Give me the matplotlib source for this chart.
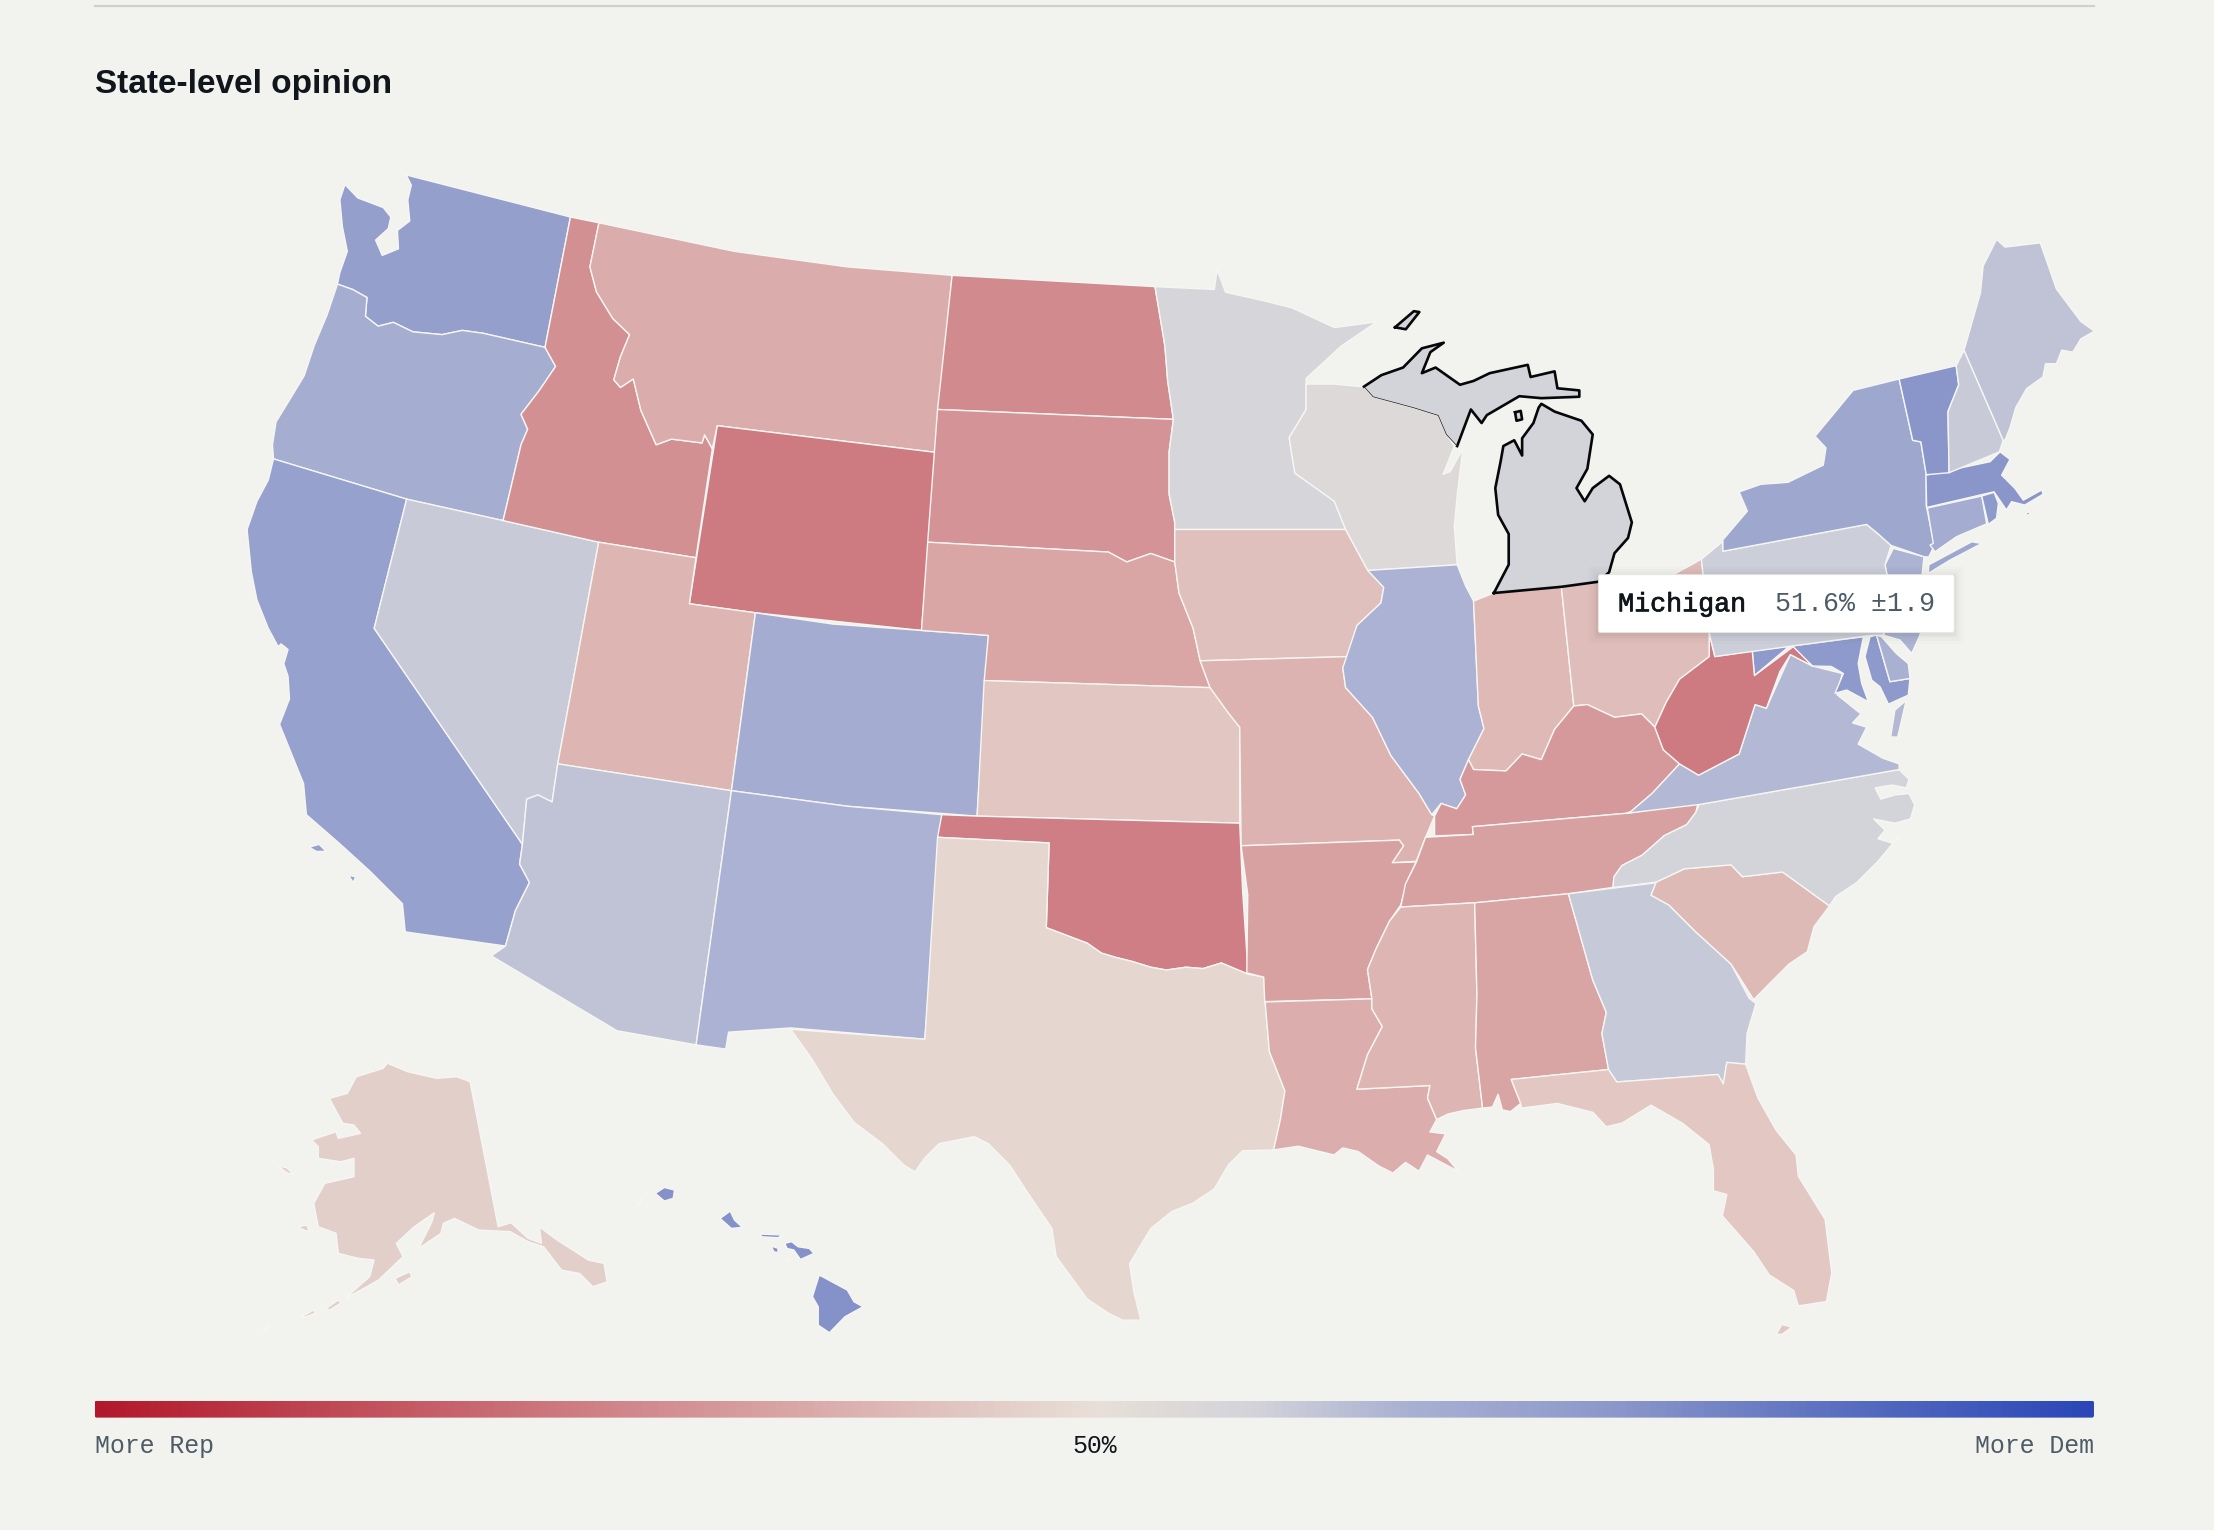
"""State-level opinion map: choropleth of state shares with a hovered Michigan tooltip."""

import matplotlib

matplotlib.use("Agg")

import matplotlib.patheffects as pe
import matplotlib.pyplot as plt
import numpy as np
from matplotlib.colors import LinearSegmentedColormap, Normalize
from matplotlib.patches import FancyBboxPatch, Polygon

BG = "#f2f2ee"
INK = "#10161b"
MUTED = "#4d5b66"
RULE = "#d0d1ca"
EDGE = "#f6f6f3"

SCALE_MIN = 40
SCALE_MAX = 60
SCALE_STOPS = [0.0, 0.25, 0.5, 0.58, 0.66, 0.76, 0.87, 1.0]
SCALE_COLORS = ["#b2182b", "#cf8186", "#e8e0d8", "#d3d3da", "#a8b0d2",
                "#8c98ca", "#5b70c0", "#2a46b8"]

STATE_NAMES = ["WA", "OR", "CA", "NV", "ID", "MT", "WY", "UT", "CO", "AZ", "NM",
               "ND", "SD", "NE", "KS", "OK", "TX", "MN", "IA", "MO", "AR", "LA",
               "WI", "IL", "IN", "OH", "KY", "TN", "MS", "AL", "GA", "FL", "SC",
               "NC", "VA", "MD", "WV", "DE", "NJ", "PA", "NY", "CT", "RI", "MA",
               "VT", "NH", "ME", "HI", "AK", "MI"]
STATE_SHARE = [54.6, 53.4, 54.4, 52.0, 45.8, 47.3, 44.7, 47.8, 53.5, 52.3, 53.1,
               45.5, 46.0, 46.9, 48.6, 44.9, 49.5, 51.4, 48.3, 47.6, 46.7, 47.4,
               50.8, 53.1, 47.9, 48.2, 46.3, 46.7, 47.8, 46.8, 52.1, 48.7, 48.0,
               51.6, 52.8, 55.0, 44.7, 53.2, 53.0, 51.8, 53.9, 53.5, 55.0, 55.3,
               55.3, 52.0, 52.3, 55.5, 49.1, 51.6]

# Outlines, one list of rings per state
SHAPES = {
    "WA": [[(287.7, 123.9), (404, 153.7), (386, 246), (342, 236), (327.4, 234), (313, 237), (292.4, 235),
            (278.6, 228.3), (267.8, 231), (258.8, 224), (259.9, 210.7), (249.7, 205), (239, 201.2), (240.7, 193),
            (246, 178), (242.5, 160.5), (240.7, 141.5), (244.3, 130.7), (253.4, 140.2), (271.4, 147),
            (276.8, 153.7), (275, 161.9), (266, 170), (270.7, 180.9), (282.2, 176.2), (281.5, 163.2),
            (290.2, 156.5), (288.8, 141.5), (291.3, 131.2)]],
    "OR": [[(239, 201.2), (249.7, 205), (259.9, 210.7), (258.8, 224), (267.8, 231), (278.6, 228.3), (292.4, 235),
            (313, 237), (327.4, 234), (342, 236), (386, 246), (393.5, 259.5), (381.6, 277), (369, 293.4),
            (373.7, 304), (369, 315), (356.3, 368.7), (288, 353.5), (193.7, 325), (193, 315), (195.5, 298.8),
            (204.6, 284), (215.4, 266.2), (222.6, 244.6), (231.7, 222.9)]],
    "CA": [[(193.7, 325), (288, 353.5), (265, 445), (370, 598), (368, 612), (375, 625), (365, 645), (358, 670),
            (287, 660), (285, 640), (262, 617), (240, 597), (217, 577), (215, 555), (198, 513), (205, 495),
            (204, 479), (201, 470), (204, 460), (199, 456), (197, 458), (190, 445), (182, 425), (178, 405),
            (175, 375), (182, 355), (190, 340)],
           [(219, 600), (226, 598), (231, 603), (224, 603)], [(247, 620), (252, 621), (250, 625)]],
    "NV": [[(288, 353.5), (356.3, 368.7), (424, 384), (395, 541), (391, 568), (381, 563), (373, 566), (370, 598),
            (265, 445)]],
    "ID": [[(404, 153.7), (424.2, 157.8), (417.8, 189), (422.4, 206.6), (434, 225.6), (445.9, 237), (439.4, 252.7),
            (434.7, 269), (439.4, 274.4), (448.5, 268.4), (453.9, 290.7), (464.7, 315), (475.6, 311), (497.2, 313.7),
            (499, 308), (504.5, 317.8), (492.9, 395), (424, 384), (356.3, 368.7), (369, 315), (373.7, 304),
            (369, 293.4), (381.6, 277), (393.5, 259.5), (386, 246)]],
    "MT": [[(424.2, 157.8), (520, 178), (600, 189), (674.3, 195), (663.4, 320.5), (508, 301.5), (504.5, 317.8),
            (499, 308), (497.2, 313.7), (475.6, 311), (464.7, 315), (453.9, 290.7), (448.5, 268.4), (439.4, 274.4),
            (434.7, 269), (439.4, 252.7), (445.9, 237), (434, 225.6), (422.4, 206.6), (417.8, 189)]],
    "WY": [[(508, 301.5), (663.4, 320.5), (652.6, 446.5), (535, 434), (488.2, 427.6)]],
    "UT": [[(424, 384), (492.9, 395), (488.2, 427.6), (535, 434), (518, 560), (395, 541)]],
    "CO": [[(535, 434), (590, 442), (652.6, 446.5), (700, 450), (692, 578), (600, 571), (518, 560)]],
    "AZ": [[(395, 541), (518, 560), (493, 740), (437, 730), (348, 677), (358, 670), (365, 645), (375, 625),
            (368, 612), (370, 598), (373, 566), (381, 563), (391, 568)]],
    "NM": [[(518, 560), (600, 571), (667, 577), (655, 736), (560, 728), (516, 731), (514, 743), (493, 740)]],
    "ND": [[(674.3, 195), (818, 203), (825, 245), (827, 270), (831, 297), (664, 290)]],
    "SD": [[(664, 290), (831, 297), (828, 320), (828, 350), (832, 370), (832, 398), (815, 392), (798, 398),
            (785, 391), (657, 384)]],
    "NE": [[(657, 384), (785, 391), (798, 398), (815, 392), (832, 398), (835, 420), (845, 445), (850, 468),
            (857, 487), (697, 482), (700, 450), (652.6, 446.5)]],
    "KS": [[(697, 482), (857, 487), (870, 505), (878, 515), (878, 583), (692, 578)]],
    "OK": [[(667, 577), (692, 578), (878, 583), (880, 630), (884, 690), (865, 682), (852, 686), (840, 685),
            (826, 687), (815, 685), (802, 681), (790, 678), (780, 675), (770, 668), (741, 657), (743, 597),
            (664, 593)]],
    "TX": [[(664, 593), (743, 597), (741, 657), (770, 668), (780, 675), (790, 678), (802, 681), (815, 685),
            (826, 687), (840, 685), (852, 686), (865, 682), (884, 690), (895, 692), (896, 709.6), (899, 744.8),
            (910, 772.6), (906.8, 792.9), (902, 814.4), (880, 815), (870, 825), (860, 842), (845, 852), (830, 858),
            (815, 870), (800, 895), (803, 915), (808, 935), (795, 935), (785, 930), (770, 920), (748, 890),
            (745, 870), (728, 845), (715, 825), (700, 810), (690, 805), (675, 808), (665, 810), (655, 820),
            (648, 830), (640, 825), (625, 810), (605, 795), (590, 775), (575, 750), (560, 729), (655, 736)]],
    "MN": [[(818, 203), (860, 205), (862, 191), (868, 207), (895, 213), (915, 218), (930, 225), (945, 232),
            (975, 228), (950, 245), (925, 268), (925, 290), (913, 310), (917, 335), (945, 355), (953, 375),
            (832, 375), (832, 370), (828, 350), (828, 320), (831, 297), (827, 270), (825, 245)]],
    "IA": [[(832, 375), (953, 375), (968.7, 404), (980, 416), (978, 427), (961, 443), (955, 465),
            (850, 468), (845, 445), (835, 420), (832, 398)]],
    "MO": [[(850, 468), (955, 465), (951, 473), (953, 487), (972, 508), (985, 535), (1005, 562), (1014, 577),
            (1016, 578), (1009.6, 593), (1003, 610), (986, 611), (994, 599), (991, 595), (879, 599), (878, 515),
            (870, 505), (857, 487)]],
    "AR": [[(879, 599), (991, 595), (994, 599), (986, 611), (1003, 610.5), (997, 623), (992, 641), (984, 652.5),
            (974.8, 671.5), (968.5, 686.6), (971.6, 707.4), (895.7, 709.4), (895, 692), (883, 689), (883.7, 633.5)]],
    "LA": [[(896, 709.6), (971.6, 707.4), (971.6, 714.5), (979, 727), (968.5, 747), (961, 771.4), (1012.7, 768.8),
            (1011, 777.7), (1017.5, 792.9), (1012.7, 801.7), (1023.8, 803), (1017.5, 815.6), (1025.4, 820.7),
            (1032.7, 829.5), (1011, 818), (1005, 829.5), (995.4, 823.2), (986.5, 830.8), (976.4, 825.7),
            (962, 815.6), (951, 813), (944.8, 818), (919.5, 811.8), (902, 814.4), (906.8, 792.9), (910, 772.6),
            (899, 744.8)]],
    "WI": [[(925, 272), (945, 272), (966, 274), (972.5, 281), (1001, 288.7), (1018.6, 294), (1026, 310), (1030, 316),
            (1022, 336), (1027, 334), (1036, 318), (1032, 351), (1030, 373), (1032, 400), (968.7, 404), (953, 375),
            (945, 355), (917, 335), (913, 310), (925, 290)]],
    "IL": [[(968.7, 404), (1032, 400), (1038, 415), (1043.6, 425.7), (1047, 500), (1051, 516), (1040, 538),
            (1034, 552), (1038, 563), (1031.7, 572.8), (1020.6, 569), (1014, 577), (1005, 562), (985, 535),
            (972, 508), (953, 487), (951, 473), (961, 443), (978, 427), (980, 416)]],
    "IN": [[(1043.6, 425.7), (1058, 420), (1105.8, 415.6), (1114.6, 500), (1101, 516.5), (1091.6, 538), (1078, 534),
            (1066.6, 546), (1043.6, 545), (1040, 538), (1051, 516), (1047, 500)]],
    "OH": [[(1105.8, 415.6), (1130, 412), (1150, 410), (1170, 412), (1185.7, 406.7), (1205, 396), (1210.6, 448.7),
            (1210.6, 465), (1189.5, 481.2), (1180, 497.5), (1172, 515), (1162.6, 505.6), (1143.4, 508),
            (1124.2, 499), (1114.6, 500)]],
    "KY": [[(1114.6, 500), (1124.2, 499), (1143.4, 508), (1162.6, 505.6), (1172, 515), (1178, 531), (1189.5, 541),
            (1170, 562), (1155, 574.8), (1152, 576), (1042.8, 585.5), (1043.4, 591), (1016, 592), (1016, 578),
            (1020.6, 569), (1031.7, 572.8), (1038, 563), (1034, 552), (1040, 538), (1043.6, 545), (1066.6, 546),
            (1078, 534), (1091.6, 538), (1101, 516.5)]],
    "TN": [[(1009.6, 593), (1043.4, 591), (1042.8, 585.5), (1152, 576), (1202.5, 569), (1201, 575.4), (1194.6, 584),
            (1178.7, 591.8), (1163, 605.7), (1148.7, 613), (1143, 621), (1142.4, 628.5), (1110.8, 633),
            (1044.4, 639.4), (992, 642.4), (995.4, 626), (1003, 610.8)]],
    "MS": [[(992, 642.4), (1044.4, 639.4), (1046, 704.3), (1045, 742), (1050, 784.8), (1036.5, 786.5), (1025.4, 789),
            (1017.5, 792.9), (1011, 777.7), (1012.7, 768.8), (961, 771.4), (968.5, 747), (979, 727), (971.6, 714.5),
            (971.6, 707.4), (968.5, 686.6), (974.8, 671.5), (984, 652.5)]],
    "AL": [[(1044.4, 639.4), (1110.8, 633), (1128, 694), (1137.6, 717), (1134.5, 732), (1139.2, 757.5),
            (1070.3, 764.5), (1077, 781.5), (1069.7, 787.3), (1064, 786), (1061, 775), (1057, 784), (1050, 784.8),
            (1045, 742), (1046, 704.3)]],
    "GA": [[(1110.8, 633), (1173, 625.2), (1169.3, 634), (1182, 641), (1201, 660), (1226, 682.8), (1238.8, 707),
            (1243.6, 710.7), (1237.3, 732), (1236.3, 753.7), (1223, 752.4), (1220.5, 767.6), (1216.7, 761),
            (1145, 766.3), (1139.2, 757.5), (1134.5, 732), (1137.6, 717), (1128, 694)]],
    "FL": [[(1070.3, 764.5), (1139.2, 757.5), (1145, 766.3), (1216.7, 761), (1220.5, 767.6), (1223, 752.4),
            (1236.3, 753.7), (1245, 777.7), (1257.8, 800.4), (1272, 818), (1273.6, 833), (1292.6, 863.7),
            (1297.3, 901.6), (1293.5, 921.8), (1273.6, 924.9), (1270.4, 914), (1253, 902.9), (1242, 886.4),
            (1219.8, 861.1), (1223, 846), (1213.5, 843.4), (1213.5, 828.3), (1210.4, 810.6), (1191.4, 795.4),
            (1169.3, 782.7), (1148.7, 795.4), (1137.6, 798), (1128.2, 787.8), (1102.9, 781.5), (1077.6, 784.8),
            (1077, 781.5)],
           [(1258, 945), (1262, 938), (1269, 940), (1262, 945)]],
    "SC": [[(1173, 624.7), (1193, 615.3), (1226, 612.5), (1234, 620.9), (1262.5, 617.6), (1295.7, 641.6),
            (1284.7, 656.3), (1280, 674), (1267, 682.8), (1253, 696.8), (1242, 708), (1226, 682.8), (1201, 660),
            (1182, 641), (1169.3, 634)]],
    "NC": [[(1203.4, 569.8), (1345, 545), (1352, 552), (1350, 558), (1340, 556), (1328, 558), (1332, 566),
            (1342, 563), (1352, 562), (1356, 570), (1353, 580), (1342, 583), (1327, 580), (1335, 588), (1330, 594),
            (1340, 597), (1345, 592), (1330, 610), (1315, 625), (1300, 635), (1295.7, 641.6), (1262.5, 617.6),
            (1234, 620.9), (1226, 612.5), (1193, 615.3), (1173, 624.7), (1142.4, 628.5), (1143, 621), (1148.7, 613),
            (1163, 605.7), (1178.7, 591.8), (1194.6, 584), (1201, 575.4)]],
    "VA": [[(1152, 576), (1155, 574.8), (1170, 562), (1189.5, 541), (1203, 549), (1231.7, 534), (1243, 499),
            (1251, 501.6), (1268, 463.6), (1283.6, 471.7), (1304.7, 477), (1301, 492), (1318, 505.6), (1312, 512),
            (1322, 515), (1316, 527), (1333.5, 537), (1345, 541), (1345, 545), (1203.4, 569.8)],
           [(1350, 496), (1342, 503), (1339, 522), (1344, 522)]],
    "MD": [[(1241, 461), (1319.7, 451), (1316, 470), (1318.5, 484), (1323.2, 497), (1307.9, 488.7), (1299.6, 491),
            (1305.5, 477), (1297, 472), (1283.6, 471.7), (1268, 457), (1242.5, 478.5)],
           [(1324.4, 451), (1329, 449.8), (1338.5, 482.8), (1352.7, 480.5), (1351.5, 492.3), (1337.4, 498.7),
            (1331.5, 486.4), (1325.6, 481.7), (1320.8, 465)]],
    "WV": [[(1210.6, 448.7), (1214.5, 465), (1241, 461), (1242.5, 478.5), (1270, 458), (1283.6, 471.7), (1268, 463.6),
            (1260.5, 475.8), (1251, 501.6), (1243, 499), (1231.7, 534), (1203, 549), (1189.5, 541), (1178, 531),
            (1172, 515), (1180, 497.5), (1189.5, 481), (1210.6, 465)]],
    "DE": [[(1329, 449.8), (1338.5, 482.8), (1352.7, 480.5), (1351.5, 470), (1343, 462.8), (1332.6, 451)]],
    "NJ": [[(1340.9, 388.4), (1362.6, 394.3), (1361, 410), (1362, 430), (1359.8, 449.8), (1353.9, 462.8),
            (1345.6, 453.3), (1333.8, 449.8), (1340, 430), (1336.2, 406), (1335, 400)]],
    "PA": [[(1205, 396), (1220, 383.6), (1220.2, 390.4), (1322, 371.4), (1330, 378), (1339.3, 386.3), (1335, 400),
            (1336.2, 406), (1340, 430), (1333.8, 449.8), (1325, 450), (1214.5, 465), (1210.6, 448.7)]],
    "NY": [[(1220.2, 390.4), (1220.2, 382.3), (1237.5, 362), (1231.7, 348.4), (1247.1, 343), (1266.3, 341.6),
            (1291.3, 329.4), (1293.2, 317.2), (1285.5, 309), (1312.4, 276.5), (1345, 268.4), (1354.6, 311.8),
            (1360.4, 313), (1364.2, 336.2), (1364.2, 358), (1370, 386.3), (1366, 394.5), (1362.6, 394.3),
            (1339.3, 386.3), (1330, 378), (1322, 371.4)],
           [(1366, 400), (1396.4, 383.7), (1403.5, 384.9), (1381, 396.7), (1365.7, 406)]],
    "CT": [[(1365, 359.8), (1403.5, 351.3), (1407, 371), (1385.8, 380), (1370.4, 390.8), (1366.9, 386), (1369.2, 384.9)]],
    "RI": [[(1403.5, 351.3), (1412.2, 348.7), (1415.3, 356.5), (1414, 367), (1408.2, 371.4)]],
    "MA": [[(1364, 336.5), (1409.4, 327), (1416.5, 320), (1423.5, 325.4), (1417.6, 336.5), (1427, 345.9), (1433, 354.2),
            (1446, 347), (1447, 350), (1434, 357.7), (1424.7, 355.3), (1421, 361.2), (1412.2, 348.3), (1364.5, 359.4)],
           [(1433, 365), (1437, 362.3), (1437.5, 364.5)], [(1447, 363), (1449, 362), (1449.5, 364)]],
    "VT": [[(1345, 268.4), (1385.4, 259), (1387.2, 272.5), (1379.6, 291.5), (1380.4, 334.8), (1364.2, 336.2),
            (1360.4, 313), (1354.6, 311.8)]],
    "NH": [[(1385.4, 259), (1391, 248), (1418.7, 311.8), (1416, 320), (1380.4, 334.8), (1379.6, 291.5), (1387.2, 272.5)]],
    "ME": [[(1391, 248), (1402.6, 207.4), (1404.5, 188.4), (1414, 169.5), (1420, 175), (1445, 172), (1456.4, 204.7),
            (1473.7, 227.7), (1483.3, 234.5), (1473.7, 240), (1468, 249.4), (1460.2, 248), (1456.4, 257.6),
            (1448.7, 257.6), (1446.8, 267), (1435.3, 275.2), (1427.6, 288.7), (1423.7, 302.3), (1420, 311.8),
            (1418.7, 311.8)]],
    "HI": [[(580.2, 903), (600.1, 913.7), (604.8, 921.9), (611.2, 925.5), (598.5, 932.5), (587.4, 943.9),
            (579.5, 938.5), (579.5, 925.5), (575.4, 918.4)],
           [(555.8, 880.6), (560.6, 879.4), (565.3, 883), (573.2, 884.2), (576.4, 887.7), (566.9, 892), (562.2, 885.3),
            (557.4, 884.2)],
           [(517.2, 857.7), (520.1, 864), (525.8, 869.3), (517.9, 870), (510, 862.9)],
           [(470.5, 841), (477.7, 842.8), (476.8, 848.7), (470.5, 850.6), (464.1, 845.2)],
           [(538.4, 874), (554.2, 874.7), (551, 876.6), (539.4, 875.9)],
           [(546.3, 882.5), (551, 884.1), (551, 887.2), (548, 886.5)],
           [(557.5, 893), (559.8, 892.4), (558.5, 894.2)],
           [(450.9, 853.5), (454.6, 848.7), (453, 851.8)]],
    "AK": [[(274.4, 753), (288.6, 759), (309.2, 763.7), (323.4, 762.6), (332.9, 766), (352.8, 868.8), (362, 866),
            (374, 877), (383.5, 880.6), (381.9, 868.8), (394.6, 878.3), (416.7, 892.4), (427.8, 894.8), (430, 907.8),
            (419.9, 911.3), (410.4, 901.9), (397.7, 899.5), (385, 883), (374, 879.4), (361.4, 872.3), (339.2, 871.2),
            (321.8, 862.9), (314, 866.4), (312.3, 873.5), (296.5, 884.2), (306, 865), (307.6, 858.9), (293.4, 868.8),
            (280.7, 880.6), (285.5, 890), (268, 906.6), (255.4, 913.7), (244.4, 919.6), (261.8, 904.2), (264.9, 892.4),
            (253.8, 891.2), (239.6, 887.7), (238, 873.5), (225.4, 868.8), (222.2, 852.3), (230, 838.1), (250.7, 833.4),
            (250.7, 820.4), (241.2, 822.8), (225.4, 820.4), (225.4, 812.1), (220.6, 807.4), (238, 801.5),
            (239.6, 806.2), (255.4, 802.7), (250.7, 796.8), (242.8, 795.6), (233.3, 777.9), (246, 774.4),
            (252.3, 762.6), (271.2, 756.7)],
           [(211, 868.8), (217.5, 867.6), (219, 872.3), (215, 871)],
           [(197, 825.8), (203, 827), (208, 832), (203, 830.5)],
           [(279.8, 905.4), (290.2, 900.7), (291.8, 904.2), (282.3, 910)],
           [(230, 927.4), (239.6, 920.7), (241.2, 923), (234, 927.5)],
           [(213.7, 932.5), (222.2, 927.8), (223.2, 930.2), (216, 932.8)],
           [(185.9, 943), (190.6, 939.6), (191, 941)]],
    "MI": [[(1058, 420), (1105.8, 415.6), (1132, 412), (1139.6, 405.3), (1143.4, 391.8), (1153, 381), (1155.7, 370),
            (1147.3, 343), (1139.6, 337), (1128, 345.7), (1122.3, 355), (1116.5, 345.7), (1124.2, 332), (1128, 307.7),
            (1120, 298), (1101, 291.5), (1091.6, 286), (1089.7, 288.7), (1086, 299.6), (1078, 310.4), (1078, 322.6),
            (1072.4, 311.8), (1064.7, 315.9), (1062.8, 326.7), (1059, 345.7), (1061, 364.6), (1068.5, 378.2),
            (1068.5, 399.9)],
           [(966, 273.8), (978.3, 265.7), (993.7, 260.3), (1007, 246.7), (1022.5, 242.7), (1013, 249.4), (1007, 264.3),
            (1016.7, 260.3), (1034, 272.5), (1043.6, 269.8), (1055, 264.3), (1082, 258.4), (1084, 267), (1101, 263),
            (1103, 275), (1118.5, 276.5), (1118.5, 281), (1091.6, 282), (1076, 280.6), (1053, 294), (1049.3, 299.6),
            (1041.7, 290), (1032, 315.9)],
           [(988, 231.8), (1001.3, 220.4), (1005.2, 221), (995.6, 233.2)],
           [(1073, 292), (1077, 291), (1078, 297), (1074, 298)]],
}
# thin stretch of the Upper Peninsula shared with Wisconsin
MI_WI_BORDER = [(1032, 315.9), (1024.4, 307.7), (1018.6, 294.2), (1001, 288.7), (972.5, 281), (966, 273.8)]

cmap = LinearSegmentedColormap.from_list("opinion", list(zip(SCALE_STOPS, SCALE_COLORS)))
norm = Normalize(SCALE_MIN, SCALE_MAX)

fig = plt.figure(figsize=(22.14, 15.30), dpi=100, facecolor=BG)
ax = fig.add_axes([0, 0, 1, 1])
ax.set_facecolor(BG)
ax.axis("off")

for name, share in zip(STATE_NAMES, STATE_SHARE):
    for ring in SHAPES[name]:
        pts = list(ring)
        if name == "MI" and ring is SHAPES["MI"][1]:
            pts = pts + MI_WI_BORDER[1:]
        ax.add_patch(Polygon(pts, closed=True, facecolor=cmap(norm(share)), edgecolor=EDGE,
                             linewidth=1.0, joinstyle="round", zorder=2))

# hovered state: heavy outline, hairline on the land border with Wisconsin
for ring in SHAPES["MI"]:
    xy = np.array(ring + [ring[0]]) if ring is not SHAPES["MI"][1] else np.array(ring)
    ax.plot(xy[:, 0], xy[:, 1], color="#050708", lw=1.9, solid_joinstyle="round", zorder=4)
border = np.array(MI_WI_BORDER)
ax.plot(border[:, 0], border[:, 1], color="#2b2b2b", lw=0.6, zorder=4)

# top rule and title
ax.plot([67, 1483], [4, 4], color=RULE, lw=1.6, zorder=1)
ax.text(67, 59.5, "State-level opinion", fontsize=24, fontweight="bold", family="Liberation Sans",
        color=INK, ha="left", va="center")

# tooltip
for grow, alpha in ((7, 0.012), (5, 0.015), (3, 0.02), (1.5, 0.03)):
    ax.add_patch(FancyBboxPatch((1132 - grow, 407 - grow + 1), 252 + 2 * grow, 41 + 2 * grow,
                                boxstyle="round,pad=0,rounding_size=2", facecolor="black",
                                edgecolor="none", alpha=alpha, zorder=5))
ax.add_patch(FancyBboxPatch((1132, 407), 252, 41, boxstyle="round,pad=0,rounding_size=1.5",
                            facecolor="white", edgecolor="#e6e6e2", linewidth=0.6, zorder=6))
ax.text(1146, 428, "Michigan", fontsize=19.2, family="Liberation Mono", color=INK, ha="left", va="center",
        zorder=7, path_effects=[pe.withStroke(linewidth=0.5, foreground=INK)])
ax.text(1257, 428, "51.6% ±1.9", fontsize=19.2, family="Liberation Mono",
        color=MUTED, ha="left", va="center", zorder=7)

# colour scale
gradient = np.linspace(SCALE_MIN, SCALE_MAX, 1024).reshape(1, -1)
im = ax.imshow(gradient, cmap=cmap, norm=norm, extent=(67, 1483, 1004, 992), aspect="auto",
               interpolation="bilinear", zorder=2)
bar_clip = FancyBboxPatch((67, 992), 1416, 12, boxstyle="round,pad=0,rounding_size=1.5",
                          facecolor="none", edgecolor="none", transform=ax.transData)
ax.add_patch(bar_clip)
im.set_clip_path(bar_clip)
ax.text(67, 1024, "More Rep", fontsize=17.9, family="Liberation Mono", color=MUTED, ha="left", va="center")
ax.text(775, 1024, "50%", fontsize=17.9, family="Liberation Mono", color=INK, ha="center", va="center")
ax.text(1483, 1024, "More Dem", fontsize=17.9, family="Liberation Mono", color=MUTED, ha="right", va="center")

ax.set_xlim(0, 1568)
ax.set_ylim(1083.6, 0)

fig.savefig("out.png", dpi=100, facecolor=BG)
plt.close(fig)
